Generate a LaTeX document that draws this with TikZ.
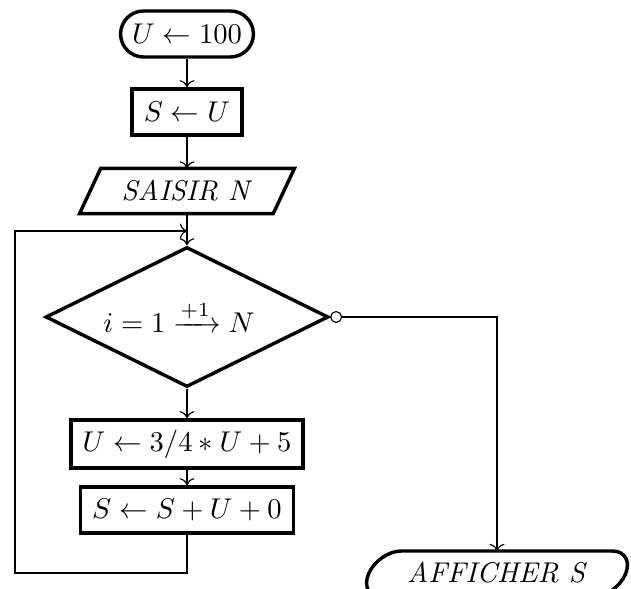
\documentclass[tikz,border=0pt]{standalone}
\usepackage{amsmath}
\usetikzlibrary{shapes.geometric,arrows.meta}
\begin{document}
\begin{tikzpicture}[x=0.35pt,y=-0.35pt,
  box/.style={draw,very thick,inner sep=2pt,minimum height=16.1pt},
  conn/.style={->,thin}]
\useasboundingbox (0,0) rectangle (631,589);
\clip (0,0) rectangle (631,589);
\node[box,rounded corners=8.05pt,minimum width=46.5pt] (start) at (187,34) {$U \leftarrow 100$};
\node[box,minimum width=38.5pt] (init) at (187,112) {$S \leftarrow U$};
\node[minimum width=67.4pt,minimum height=15.4pt,inner sep=0pt] (in) at (187,191) {\textit{SAISIR N}};
\draw[very thick] ([xshift=-3.7pt]in.south west) -- ([xshift=3.7pt]in.north west) -- ([xshift=3.7pt]in.north east) -- ([xshift=-3.7pt]in.south east) -- cycle;
\node[draw,very thick,diamond,inner sep=0pt,aspect=2,minimum width=99pt,minimum height=49pt] (loop) at (187,317) {$i = 1 \xrightarrow{+1} N$\hspace*{5.6pt}};
\node[box,minimum width=81.2pt,minimum height=16.8pt] (upd) at (187,444) {$U \leftarrow 3/4 * U + 5$};
\node[box,minimum width=74.5pt] (acc) at (187,510) {$S \leftarrow S + U + 0$};
\begin{scope}[shift={(497,574)},xslant=0.42]
\draw[very thick] (-105.5,-23) -- (105.5,-23) arc[start angle=90,end angle=-90,radius=8.05pt] -- (-105.5,23) arc[start angle=270,end angle=90,radius=8.05pt] -- cycle;
\end{scope}
\node (out) at (497,573) {\textit{AFFICHER S}};
\coordinate (outtop) at (497,551);
\coordinate (top) at (187,231);
\coordinate (bl) at (187,573);
\coordinate (bll) at (15,573);
\coordinate (tll) at (15,231);
\coordinate (rt) at (497,317);
\draw[conn] (start) -- (init);
\draw[conn] (init) -- (in);
\draw[conn] (in.south) -- (loop.north);
\draw[conn] (loop) -- (upd);
\draw[conn] (upd) -- (acc);
\draw[conn] (acc.south) -- (bl) -- (bll) -- (tll) -- (top);
\draw[thin,{Circle[open,length=4.2pt]}->] (loop.east) -- (rt) -- (outtop);
\end{tikzpicture}
\end{document}
